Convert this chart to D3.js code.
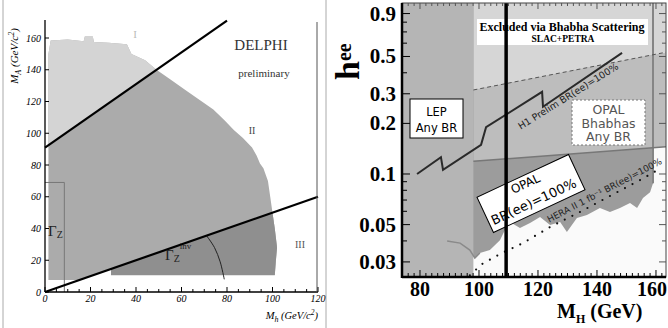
<!DOCTYPE html>
<html>
<head>
<meta charset="utf-8">
<script src="https://cdn.jsdelivr.net/npm/d3@7"></script>
<style>
  body { margin: 0; background: #fff; }
  svg { display: block; }
</style>
</head>
<body>
<svg id="chart" width="668" height="328"></svg>
<script>
// ---------- left panel data: DELPHI scan in (M_h, M_A) ----------
const delphiXTicks = [0, 20, 40, 60, 80, 100, 120];
const delphiYTicks = [0, 20, 40, 60, 80, 100, 120, 140, 160];
// outline of the scanned points, from bottom left going clockwise
const delphiScan = [[1.5, 7.6], [1.5, 150], [2.5, 158.5], [10, 159], [17, 158], [17.5, 161], [21, 161], [21.5, 157.5],
  [28, 157], [36, 156], [38, 150], [44, 146], [49, 140], [55, 134], [62, 127], [68, 121], [74, 115], [79, 108],
  [83, 102], [87, 97], [91, 91], [93, 86], [94.5, 81], [96, 78], [98, 70], [99, 60], [100, 50], [101, 40],
  [102, 28], [101.5, 20], [101, 10.5], [29, 10.5], [29, 14.5], [15.2, 7.6]];
const upperLine = [[0, 91], [80, 171]];
const lowerLine = [[0, 0], [120, 60]];
const darkFloor = 10.5;
const gammaZBox = [[0, 69], [8.5, 69], [8.5, 0]];
const gammaInvArc = [[71, 35.5], [74.5, 28], [77, 19], [78.8, 8]];

// ---------- right panel data: h_ee vs M_H ----------
const mhTicks = [80, 100, 120, 140, 160];
const heeTicks = [0.03, 0.05, 0.1, 0.2, 0.3, 0.5, 0.9];
const heeMinor = [0.04, 0.06, 0.07, 0.08, 0.09, 0.4, 0.6, 0.7, 0.8];
const lepLimit = 98.1;
const opalEdge = 159;
const thickLine = 109.2;
const bhabhaDashed = [[98.1, 0.316], [163.4, 0.53]];
const opalBhabhaLine = [[98.1, 0.119], [163.4, 0.145]];
const opalBR100 = [[89.2, 0.040], [93.6, 0.0388], [96.9, 0.0353], [98.6, 0.0316], [100.3, 0.0339], [103.7, 0.0353],
  [107.1, 0.0404], [108.8, 0.0464], [110.5, 0.0518], [113.9, 0.0477], [117.3, 0.0511], [120.7, 0.0554],
  [124.1, 0.0497], [127.5, 0.0518], [129.8, 0.0452], [133.2, 0.0547], [136.6, 0.057], [141, 0.0628],
  [144.4, 0.0594], [147.8, 0.0628], [151.2, 0.0672], [153.6, 0.0628], [155.6, 0.072], [158, 0.078], [159, 0.088]];
const h1Prelim = [[79, 0.1], [87.1, 0.126], [87.8, 0.106], [100.7, 0.149], [102.4, 0.19], [121.4, 0.308],
  [121.7, 0.251], [148.5, 0.525]];
const heraII = [[96.9, 0.025], [101, 0.0291], [107.1, 0.0334], [114.9, 0.0388], [124.1, 0.0484], [134.2, 0.0594],
  [144.4, 0.074], [154.6, 0.092], [162, 0.109]];

const serif = "'Liberation Serif', 'Times New Roman', serif";
const sans = "'DejaVu Sans', Verdana, sans-serif";

const svg = d3.select("#chart");
const defs = svg.append("defs");

// ================= left panel =================
const lx = d3.scaleLinear().domain([0, 120]).range([45, 318]);
const ly = d3.scaleLinear().domain([0, 160]).range([292, 38]);
const lpt = d => [lx(d[0]), ly(d[1])];
const lline = d3.line().x(d => lx(d[0])).y(d => ly(d[1]));
const left = svg.append("g");

// panel border
left.append("line").attr("x1", 3).attr("x2", 3).attr("y1", 0).attr("y2", 328).attr("stroke", "#aaa");
left.append("line").attr("x1", 326).attr("x2", 326).attr("y1", 0).attr("y2", 328).attr("stroke", "#aaa");

defs.append("clipPath").attr("id", "clipUpper").append("polygon")
  .attr("points", upperLine.concat([[0, upperLine[1][1]]]).map(lpt).join(" "));
defs.append("clipPath").attr("id", "clipLower").append("polygon")
  .attr("points", [lowerLine[1], [lowerLine[1][0], darkFloor], [2 * darkFloor, darkFloor]].map(lpt).join(" "));

left.append("path").attr("d", lline(delphiScan) + "Z").attr("fill", "#ababab");
left.append("path").attr("d", lline(delphiScan) + "Z").attr("fill", "#d4d4d4").attr("clip-path", "url(#clipUpper)");
left.append("path").attr("d", lline(delphiScan) + "Z").attr("fill", "#8f8f8f").attr("clip-path", "url(#clipLower)");

left.append("path").attr("d", lline(gammaZBox)).attr("fill", "none").attr("stroke", "#777").attr("stroke-width", 1);
left.append("path").attr("fill", "none").attr("stroke", "#222").attr("stroke-width", 1)
  .attr("d", d3.line().x(d => lx(d[0])).y(d => ly(d[1])).curve(d3.curveCatmullRom)(gammaInvArc));

left.append("path").attr("d", lline(upperLine)).attr("stroke", "#000").attr("stroke-width", 2.2);
left.append("path").attr("d", lline(lowerLine)).attr("stroke", "#000").attr("stroke-width", 2.2);

// axes
left.append("line").attr("x1", lx(0)).attr("x2", lx(0)).attr("y1", 20).attr("y2", ly(0)).attr("stroke", "#000").attr("stroke-width", 1.3);
left.append("line").attr("x1", lx(0)).attr("x2", lx(120)).attr("y1", ly(0)).attr("y2", ly(0)).attr("stroke", "#000").attr("stroke-width", 1.3);
left.append("line").attr("x1", 317).attr("x2", 317).attr("y1", 22).attr("y2", ly(0)).attr("stroke", "#555").attr("stroke-width", 1);

left.selectAll(".lxminor").data(d3.range(0, 121, 5)).enter().append("line")
  .attr("x1", d => lx(d)).attr("x2", d => lx(d))
  .attr("y1", ly(0)).attr("y2", d => ly(0) - (d % 20 === 0 ? 5 : 3))
  .attr("stroke", "#000").attr("stroke-width", 1);
left.selectAll(".lytick").data(delphiYTicks).enter().append("line")
  .attr("x1", lx(0)).attr("x2", lx(0) + 4).attr("y1", d => ly(d)).attr("y2", d => ly(d))
  .attr("stroke", "#000").attr("stroke-width", 1);

left.selectAll(".lxlab").data(delphiXTicks).enter().append("text")
  .attr("x", d => lx(d)).attr("y", 302).attr("text-anchor", "middle")
  .attr("font-family", serif).attr("font-style", "italic").attr("font-size", 10).text(d => d);
left.selectAll(".lylab").data(delphiYTicks).enter().append("text")
  .attr("x", 41).attr("y", d => ly(d) + 3.5).attr("text-anchor", "end")
  .attr("font-family", serif).attr("font-style", "italic").attr("font-size", 10).text(d => d);

const xt = left.append("text").attr("x", 318).attr("y", 319).attr("text-anchor", "end")
  .attr("font-family", serif).attr("font-style", "italic").attr("font-size", 10.5);
xt.append("tspan").text("M");
xt.append("tspan").attr("font-size", 8).attr("dy", 3).text("h");
xt.append("tspan").attr("dy", -3).text(" (GeV/c");
xt.append("tspan").attr("font-size", 7.5).attr("dy", -4).text("2");
xt.append("tspan").attr("dy", 4).text(")");

const yt = left.append("text").attr("transform", "translate(18,56) rotate(-90)").attr("text-anchor", "middle")
  .attr("font-family", serif).attr("font-style", "italic").attr("font-size", 11);
yt.append("tspan").text("M");
yt.append("tspan").attr("font-size", 8).attr("dy", 3).text("A");
yt.append("tspan").attr("dy", -3).text(" (GeV/c");
yt.append("tspan").attr("font-size", 8).attr("dy", -4).text("2");
yt.append("tspan").attr("dy", 4).text(")");

left.append("text").attr("x", 261).attr("y", 50).attr("text-anchor", "middle")
  .attr("font-family", serif).attr("font-size", 15).attr("fill", "#333").text("DELPHI");
left.append("text").attr("x", 264).attr("y", 77).attr("text-anchor", "middle")
  .attr("font-family", serif).attr("font-size", 11).attr("fill", "#333").text("preliminary");
left.append("text").attr("x", 135).attr("y", 38).attr("text-anchor", "middle")
  .attr("font-family", serif).attr("font-size", 11).attr("fill", "#bbb").text("I");
left.append("text").attr("x", 252).attr("y", 134).attr("text-anchor", "middle")
  .attr("font-family", serif).attr("font-size", 10).attr("fill", "#444").text("II");
left.append("text").attr("x", 300).attr("y", 248).attr("text-anchor", "middle")
  .attr("font-family", serif).attr("font-size", 10).attr("fill", "#555").text("III");

const gz = left.append("text").attr("x", 48).attr("y", 236).attr("font-family", serif).attr("font-size", 15).attr("fill", "#222");
gz.append("tspan").text("Γ");
gz.append("tspan").attr("font-size", 10).attr("dy", 2).text("Z");
const gi = left.append("text").attr("x", 165).attr("y", 260).attr("font-family", serif).attr("font-size", 15).attr("fill", "#222");
gi.append("tspan").text("Γ");
gi.append("tspan").attr("font-size", 10).attr("dy", 2).text("Z");
gi.append("tspan").attr("font-size", 9).attr("dy", -13).text("inv");

// ================= right panel =================
const rx = d3.scaleLinear().domain([73.9, 163.4]).range([402, 666]);
const ry = d3.scaleLog().domain([0.0244, 1.04]).range([277, 3]);
const [x0, x1] = rx.range();
const [yb, yt0] = ry.range();
const rline = d3.line().x(d => rx(d[0])).y(d => ry(d[1]));

defs.append("clipPath").attr("id", "clipRight").append("rect")
  .attr("x", x0).attr("y", yt0).attr("width", x1 - x0).attr("height", yb - yt0);
const right = svg.append("g");
const plot = right.append("g").attr("clip-path", "url(#clipRight)");

plot.append("rect").attr("x", x0).attr("y", yt0).attr("width", x1 - x0).attr("height", yb - yt0).attr("fill", "#fafafa");

// OPAL BR(ee)=100% excluded region (jagged lower edge)
const topV = ry.domain()[1];
plot.append("path")
  .attr("d", rline(opalBR100.concat([[opalEdge, topV], [opalBR100[0][0], topV]])) + "Z")
  .attr("fill", "#9c9c9c");
// OPAL Bhabhas band and Bhabha scattering region
plot.append("path")
  .attr("d", rline(bhabhaDashed.concat(opalBhabhaLine.slice().reverse())) + "Z")
  .attr("fill", "#bdbdbd");
plot.append("path")
  .attr("d", rline(bhabhaDashed.concat([[bhabhaDashed[1][0], topV], [bhabhaDashed[0][0], topV]])) + "Z")
  .attr("fill", "#d6d6d6");
// LEP any BR
plot.append("rect").attr("x", x0).attr("y", yt0).attr("width", rx(lepLimit) - x0).attr("height", yb - yt0)
  .attr("fill", "#b5b5b5");
plot.append("path").attr("d", rline(opalBR100.filter(d => d[0] <= 100.3)))
  .attr("fill", "none").attr("stroke", "#8a8a8a").attr("stroke-width", 1.5);

plot.append("line").attr("x1", rx(opalEdge)).attr("x2", rx(opalEdge)).attr("y1", yt0).attr("y2", ry(opalBR100[opalBR100.length - 1][1]))
  .attr("stroke", "#858585").attr("stroke-width", 2);
plot.append("path").attr("d", rline(opalBhabhaLine)).attr("fill", "none").attr("stroke", "#777").attr("stroke-width", 1.5);
plot.append("path").attr("d", rline(bhabhaDashed)).attr("fill", "none").attr("stroke", "#555").attr("stroke-width", 1)
  .attr("stroke-dasharray", "4,3");
plot.append("path").attr("d", rline(h1Prelim)).attr("fill", "none").attr("stroke", "#2a2a2a").attr("stroke-width", 2);
plot.append("path").attr("d", rline(heraII)).attr("fill", "none").attr("stroke", "#111").attr("stroke-width", 2.2)
  .attr("stroke-linecap", "round").attr("stroke-dasharray", "0,8.5");

// labels inside the plot
plot.append("rect").attr("x", 477).attr("y", 19).attr("width", 171).attr("height", 26).attr("fill", "#fff");
plot.append("text").attr("x", 562).attr("y", 31).attr("text-anchor", "middle")
  .attr("font-family", serif).attr("font-weight", "bold").attr("font-size", 12).text("Excluded via Bhabha Scattering");
plot.append("text").attr("x", 563).attr("y", 42).attr("text-anchor", "middle")
  .attr("font-family", serif).attr("font-weight", "bold").attr("font-size", 9.5).text("SLAC+PETRA");

plot.append("rect").attr("x", 410).attr("y", 99).attr("width", 53).attr("height", 39)
  .attr("fill", "#fff").attr("stroke", "#000").attr("stroke-width", 1);
plot.append("text").attr("x", 436.5).attr("y", 116).attr("text-anchor", "middle")
  .attr("font-family", sans).attr("font-size", 11.5).text("LEP");
plot.append("text").attr("x", 436.5).attr("y", 132).attr("text-anchor", "middle")
  .attr("font-family", sans).attr("font-size", 11.5).text("Any BR");

plot.append("rect").attr("x", 572).attr("y", 100).attr("width", 73).attr("height", 45)
  .attr("fill", "#fff").attr("stroke", "#777").attr("stroke-dasharray", "2,2");
["OPAL", "Bhabhas", "Any BR"].forEach((t, i) => {
  plot.append("text").attr("x", 608.5).attr("y", 114 + i * 13.5).attr("text-anchor", "middle")
    .attr("font-family", sans).attr("font-size", 12.5).attr("fill", "#555").text(t);
});

const opalBox = plot.append("g").attr("transform", "translate(531,193.5) rotate(-25)");
opalBox.append("rect").attr("x", -50.5).attr("y", -19.5).attr("width", 101).attr("height", 39)
  .attr("fill", "#fff").attr("stroke", "#000").attr("stroke-width", 1);
opalBox.append("text").attr("x", -1).attr("y", -7).attr("text-anchor", "middle")
  .attr("font-family", sans).attr("font-size", 12).text("OPAL");
opalBox.append("text").attr("x", -1).attr("y", 13).attr("text-anchor", "middle")
  .attr("font-family", sans).attr("font-size", 13).text("BR(ee)=100%");

plot.append("text").attr("transform", "translate(570,99) rotate(-32)").attr("text-anchor", "middle")
  .attr("font-family", sans).attr("font-size", 9.5).attr("fill", "#222").text("H1 Prelim BR(ee)=100%");
plot.append("text").attr("transform", "translate(606,193) rotate(-27.7)").attr("text-anchor", "middle")
  .attr("font-family", sans).attr("font-size", 9).attr("fill", "#222").text("HERA II  1 fb⁻¹ BR(ee)=100%");

plot.append("line").attr("x1", rx(thickLine)).attr("x2", rx(thickLine)).attr("y1", yt0).attr("y2", yb)
  .attr("stroke", "#000").attr("stroke-width", 3.5);

// frame and ticks
right.append("rect").attr("x", x0).attr("y", yt0).attr("width", x1 - x0).attr("height", yb - yt0)
  .attr("fill", "none").attr("stroke", "#444").attr("stroke-width", 1);
right.append("line").attr("x1", x0).attr("x2", x0).attr("y1", yt0).attr("y2", yb + 1).attr("stroke", "#000").attr("stroke-width", 2.5);
right.append("line").attr("x1", x0).attr("x2", x1).attr("y1", yb).attr("y2", yb).attr("stroke", "#000").attr("stroke-width", 2.5);

const mhMinor = d3.range(76, 164, 2);
right.selectAll(".rxt").data(mhMinor).enter().append("line")
  .attr("x1", d => rx(d)).attr("x2", d => rx(d))
  .attr("y1", yb).attr("y2", d => yb - (d % 20 === 0 ? 7 : 4))
  .attr("stroke", "#000").attr("stroke-width", 1);
right.selectAll(".rxtt").data(mhMinor).enter().append("line")
  .attr("x1", d => rx(d)).attr("x2", d => rx(d))
  .attr("y1", yt0).attr("y2", d => yt0 + (d % 20 === 0 ? 6 : 3))
  .attr("stroke", "#555").attr("stroke-width", 1);
right.selectAll(".ryt").data(heeTicks.concat(heeMinor)).enter().append("line")
  .attr("x1", x0).attr("x2", d => x0 + (heeTicks.includes(d) ? 8 : 5))
  .attr("y1", d => ry(d)).attr("y2", d => ry(d))
  .attr("stroke", "#000").attr("stroke-width", 1);
right.selectAll(".rytr").data(heeTicks.concat(heeMinor)).enter().append("line")
  .attr("x1", x1).attr("x2", d => x1 - (heeTicks.includes(d) ? 7 : 4))
  .attr("y1", d => ry(d)).attr("y2", d => ry(d))
  .attr("stroke", "#555").attr("stroke-width", 1);

right.selectAll(".rylab").data(heeTicks).enter().append("text")
  .attr("x", 396).attr("y", d => ry(d) + 7).attr("text-anchor", "end")
  .attr("font-family", serif).attr("font-weight", "bold").attr("font-size", 21).text(d => d);
right.selectAll(".rxlab").data(mhTicks).enter().append("text")
  .attr("x", d => Math.min(rx(d), 652)).attr("y", 296).attr("text-anchor", "middle")
  .attr("font-family", serif).attr("font-weight", "bold").attr("font-size", 20).text(d => d);

const mt = right.append("text").attr("x", 557).attr("y", 318)
  .attr("font-family", serif).attr("font-weight", "bold").attr("font-size", 20);
mt.append("tspan").text("M");
mt.append("tspan").attr("font-size", 12).attr("dy", 5).text("H");
mt.append("tspan").attr("dy", -5).text(" (GeV)");

const ht = right.append("text").attr("transform", "translate(359,80) rotate(-90)")
  .attr("font-family", serif).attr("font-weight", "bold").attr("font-size", 34);
ht.append("tspan").text("h");
ht.append("tspan").attr("font-size", 20).attr("dy", -8).text("ee");
</script>
</body>
</html>
